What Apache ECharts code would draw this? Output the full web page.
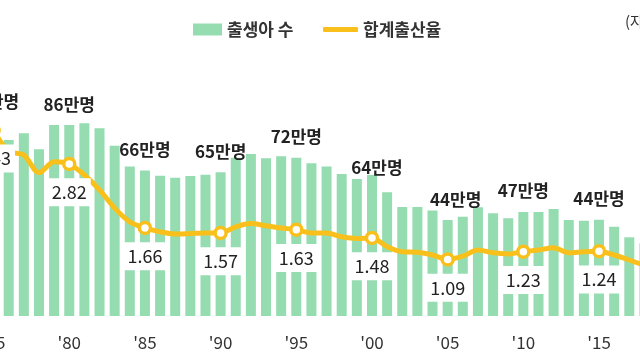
<!DOCTYPE html>
<html>
<head>
<meta charset="utf-8">
<script src="https://cdn.jsdelivr.net/npm/echarts@6/dist/echarts.min.js"></script>
<style>
html,body{margin:0;padding:0;background:#fff;}
#c{width:640px;height:360px;}
</style>
</head>
<body>
<div id="c"></div>
<script>
// Years (categories)
const years = [1975,1976,1977,1978,1979,1980,1981,1982,1983,1984,1985,1986,1987,1988,1989,1990,1991,1992,1993,1994,1995,1996,1997,1998,1999,2000,2001,2002,2003,2004,2005,2006,2007,2008,2009,2010,2011,2012,2013,2014,2015,2016,2017,2018];
// 출생아 수 (만 명)
const births = [87.4,79.6,82.7,75.4,86.4,86.4,87.2,84.9,77.0,67.6,65.8,63.5,62.6,63.3,63.9,65.0,71.6,73.3,71.4,72.3,71.6,69.1,67.6,64.3,62.0,63.8,56.0,49.3,49.3,47.7,43.4,44.9,49.2,46.5,44.2,47.1,47.1,48.4,43.4,43.1,43.6,40.4,35.6,32.9];
// 합계출산율
const tfr = [3.43,3.05,2.98,2.66,2.86,2.82,2.62,2.35,2.02,1.77,1.66,1.59,1.55,1.56,1.57,1.57,1.68,1.74,1.70,1.66,1.63,1.57,1.57,1.50,1.47,1.48,1.32,1.23,1.22,1.17,1.09,1.15,1.26,1.21,1.19,1.23,1.26,1.30,1.21,1.23,1.24,1.17,1.08,0.98];
// Highlighted years and their labels
const markYears = [1975,1980,1985,1990,1995,2000,2005,2010,2015];
const birthLabels = ['87만명','86만명','66만명','65만명','72만명','64만명','44만명','47만명','44만명'];
const tfrLabels = ['3.43','2.82','1.66','1.57','1.63','1.48','1.09','1.23','1.24'];
// Tick labels
const tickYears = [1975,1980,1985,1990,1995,2000,2005,2010,2015];
const tickLabels = ["'75","'80","'85","'90","'95","'00","'05","'10","'15"];

const seriesNames = ['출생아 수','합계출산율'];
const GREEN = '#95dcb0';
const YELLOW = '#f9c01c';
const FONT = '"Noto Sans CJK KR", "Noto Sans", sans-serif';

const labelOffsets = {2000:[5,14], 2005:[8,0]};

const barData = births.map((v,i) => {
  const y = years[i];
  const k = markYears.indexOf(y);
  if (k < 0) return v;
  return {
    value: v,
    label: {
      show: true, position: 'top', distance: 11,
      formatter: birthLabels[k],
      offset: labelOffsets[y] || [0,0],
      fontFamily: FONT, fontSize: 17, fontWeight: 'bold', color: '#222', lineHeight: 20
    }
  };
});

const lineData = tfr.map((v,i) => {
  const y = years[i];
  const k = markYears.indexOf(y);
  if (k < 0) return {value: v, symbol: 'none'};
  return {
    value: v,
    symbol: 'circle',
    symbolSize: 11,
    label: {
      show: true, position: 'bottom', distance: 7,
      formatter: tfrLabels[k],
      backgroundColor: '#fff', padding: [4,4],
      fontFamily: FONT, fontSize: 18, color: '#222', lineHeight: 20
    }
  };
});

const chart = echarts.init(document.getElementById('c'), null, {renderer:'canvas'});
chart.setOption({
  animation: false,
  backgroundColor: '#fff',
  textStyle: {fontFamily: FONT},
  legend: [
    {
      data: [{name: seriesNames[0], icon: 'rect'}],
      left: 193, top: 21, padding: 0,
      itemWidth: 29, itemHeight: 12, itemGap: 5,
      textStyle: {fontFamily: FONT, fontSize: 17, fontWeight: 'bold', color: '#333'},
      selectedMode: false
    },
    {
      data: [{name: seriesNames[1], icon: 'roundRect'}],
      left: 323, top: 21, padding: 0,
      itemWidth: 35, itemHeight: 5, itemGap: 5,
      itemStyle: {color: YELLOW, borderWidth: 0},
      textStyle: {fontFamily: FONT, fontSize: 17, fontWeight: 'bold', color: '#333'},
      selectedMode: false
    }
  ],
  graphic: [{
    type: 'text', left: 625, top: 14,
    style: {text: '(자료: 통계청)', fontFamily: FONT, fontSize: 15, fill: '#333'}
  }],
  grid: {left: -14, right: -12, top: 95, bottom: 44, containLabel: false, outerBoundsMode: 'none'},
  xAxis: {
    type: 'category',
    data: years.map(String),
    boundaryGap: true,
    axisLine: {show: false},
    axisTick: {show: false},
    axisLabel: {
      interval: (idx, val) => tickYears.indexOf(+val) >= 0,
      formatter: (val) => tickLabels[tickYears.indexOf(+val)] || '',
      margin: 18,
      fontFamily: FONT, fontSize: 17, color: '#333'
    }
  },
  yAxis: [
    {type: 'value', min: 0, max: 100, show: false, splitLine: {show: false}},
    {type: 'value', min: 0.065, max: 4.07, show: false, splitLine: {show: false}}
  ],
  series: [
    {
      name: seriesNames[0], type: 'bar', yAxisIndex: 0,
      data: barData, barWidth: 10,
      itemStyle: {color: GREEN},
      z: 2
    },
    {
      name: seriesNames[1], type: 'line', yAxisIndex: 1,
      data: lineData, smooth: 0.3,
      showAllSymbol: true,
      lineStyle: {color: YELLOW, width: 5},
      itemStyle: {color: '#fff', borderColor: YELLOW, borderWidth: 3.5},
      z: 3
    }
  ]
});
</script>
</body>
</html>
